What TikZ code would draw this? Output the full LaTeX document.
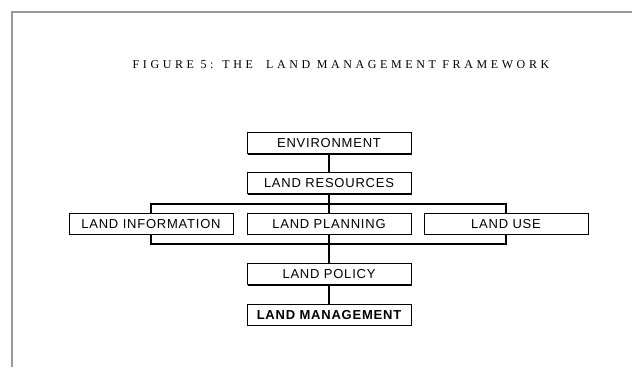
\documentclass[tikz,border=0pt]{standalone}
\usepackage{fontspec}
\usepackage{tikz}
\usetikzlibrary{shadows}
\setmainfont{Liberation Sans}
\newfontfamily\titlefont[LetterSpace=30]{Liberation Serif}
\newfontfamily\boxfont[LetterSpace=6]{Liberation Sans}

\tikzset{
  box/.style={draw, fill=white, line width=1pt, minimum width=164pt, minimum height=21pt, inner sep=0pt,
    font=\boxfont\fontsize{13}{15}\selectfont,
    drop shadow={shadow xshift=0.9pt, shadow yshift=-0.9pt, fill=black, opacity=1}},
  link/.style={line width=2pt}
}

\begin{document}
\begin{tikzpicture}[x=1pt, y=1pt]
\useasboundingbox (0,0) rectangle (632,367);
% page frame
\draw[gray!80, line width=1.3pt] (12,0) -- (12,355) -- (632,355);
\node (title) at (341,302) {\titlefont\fontsize{12}{14}\selectfont FIGURE 5: THE \ LAND MANAGEMENT FRAMEWORK};

% the chain of boxes
\node[box] (env) at (329,223.5) {ENVIRONMENT};
\node[box] (res) at (329,183.5) {LAND RESOURCES};
\node[box] (info) at (151,143) {LAND INFORMATION};
\node[box] (plan) at (329,143) {LAND PLANNING};
\node[box] (use) at (506,143) {LAND USE};
\node[box] (pol) at (329,92.5) {LAND POLICY};
\node[box, font=\boxfont\fontsize{13}{15}\selectfont\bfseries] (mgmt) at (329,52) {LAND MANAGEMENT};

% connectors
\draw[link] (env) -- (res);
\draw[link] (res) -- (plan);
\draw[link] (info.north) -- ++(0,9) -| (use.north);
\draw[link, line width=2.4pt] (info.south) -- ++(0,-9) -| (use.south);
\draw[link] (plan) -- (pol);
\draw[link] (pol) -- (mgmt);
\end{tikzpicture}
\end{document}
